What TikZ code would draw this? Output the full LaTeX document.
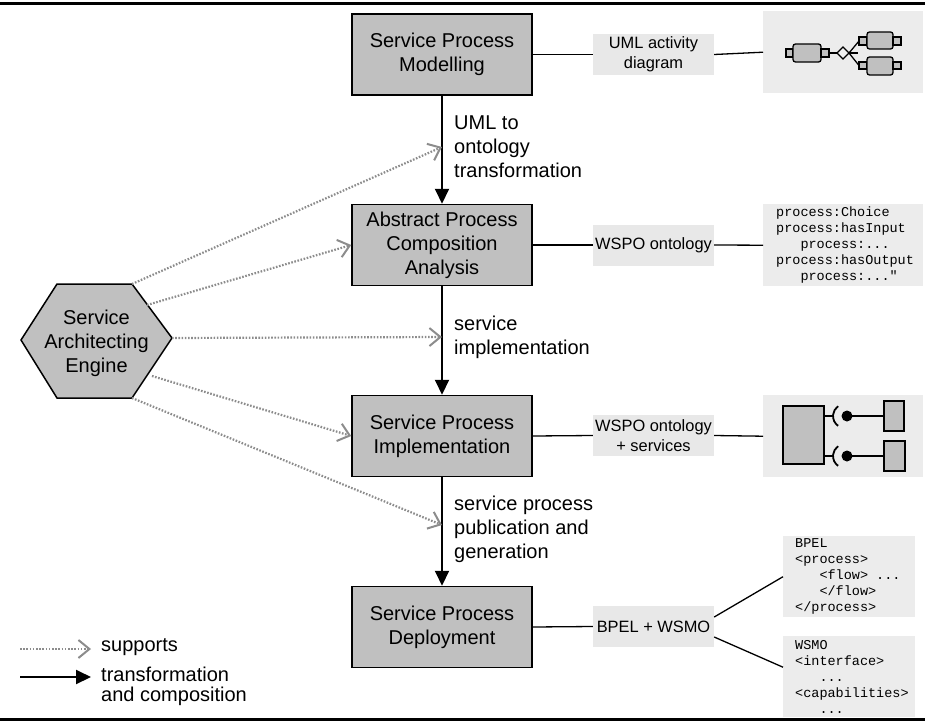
\documentclass[tikz,border=0pt]{standalone}
\usepackage{fontspec}
\setmainfont{Liberation Sans}
\setmonofont{Liberation Mono}
\usetikzlibrary{arrows.meta}

\definecolor{boxgray}{HTML}{C0C0C0}
\definecolor{labelgray}{HTML}{E8E8E8}
\definecolor{texgray}{HTML}{ECECEC}
\definecolor{supgray}{HTML}{8C8C8C}

\tikzset{
  stage/.style={draw=black, line width=1.5pt, fill=boxgray, minimum width=180pt,
    minimum height=81pt, align=center, inner sep=0pt, font=\fontsize{20}{24}\selectfont},
  artefact/.style={fill=labelgray, minimum width=121pt, minimum height=41pt,
    align=center, inner sep=0pt, font=\fontsize{16.4}{20}\selectfont},
  flowlabel/.style={anchor=west, align=left, inner sep=0pt, font=\fontsize{20}{24}\selectfont},
  codebox/.style={fill=texgray, inner sep=0pt, anchor=north west},
  codetext/.style={anchor=west, align=left, inner sep=0pt,
    font=\ttfamily\fontsize{13.5}{16}\selectfont},
  flow/.style={line width=2pt, -{Triangle[length=15pt,width=14pt]}},
  support/.style={draw=supgray, line width=2.2pt, dash pattern=on 1.6pt off 1.6pt,
    -{Straight Barb[length=11pt,width=18pt,line width=2pt]}},
  link/.style={line width=1.3pt},
  pict/.style={draw=black, line width=1.3pt, fill=boxgray},
}

\begin{document}
\begin{tikzpicture}[x=1pt,y=-1pt]
\useasboundingbox (0,0) rectangle (925,723);

% frame rules
\draw[line width=3pt] (0,3) -- (925,3);
\draw[line width=3pt] (0,719.5) -- (925,719.5);

% process stages
\node[stage] (spm) at (442,54.5)  {Service Process\\Modelling};
\node[stage] (apca) at (442,245)  {Abstract Process\\Composition\\Analysis};
\node[stage] (spi) at (442,436)   {Service Process\\Implementation};
\node[stage] (spd) at (442,627)   {Service Process\\Deployment};

% transformation arrows
\draw[flow] (spm.south) -- (apca.north);
\draw[flow] (apca.south) -- (spi.north);
\draw[flow] (spi.south) -- (spd.north);

\node[flowlabel] (l1) at (454,147) {UML to\\ontology\\transformation};
\node[flowlabel] (l2) at (454,337) {service\\implementation};
\node[flowlabel] (l3) at (454,529) {service process\\publication and\\generation};

% artefact labels
\node[artefact] (uad) at (653.5,54.5) {UML activity\\diagram};
\node[artefact] (wspo) at (653.5,245) {WSPO ontology};
\node[artefact] (wsps) at (653.5,435.5) {WSPO ontology\\+ services};
\node[artefact] (bw) at (653.5,626.5) {BPEL + WSMO};

% artefact illustrations
\node[codebox, minimum width=160pt, minimum height=82pt] (actpic) at (763,11) {};
\node[codebox, minimum width=160pt, minimum height=82pt] (ontobox) at (763,204) {};
\node[codebox, minimum width=160pt, minimum height=82pt] (comppic) at (763,395) {};
\node[codebox, minimum width=132pt, minimum height=81pt] (bpel) at (783,536) {};
\node[codebox, minimum width=132pt, minimum height=81pt] (wsmo) at (783,636) {};

\node[codetext] (ontotext) at (776,245) {process:Choice\\process:hasInput\\\phantom{xxx}process:...\\process:hasOutput\\\phantom{xxx}process:..."};
\node[codetext] (bpeltext) at (795,576.5) {BPEL\\<process>\\\phantom{xxx}<flow> ...\\\phantom{xxx}</flow>\\</process>};
\node[codetext] (wsmotext) at (795,676.5) {WSMO\\<interface>\\\phantom{xxx}...\\<capabilities>\\\phantom{xxx}...};

% links between stages, artefacts and illustrations
\draw[link] (spm.east) -- (uad.west);
\draw[link] (uad.east) -- (actpic.west);
\draw[link] (apca.east) -- (wspo.west);
\draw[link] (wspo.east) -- (ontobox.west);
\draw[link] (spi.east) -- (wsps.west);
\draw[link] (wsps.east) -- (comppic.west);
\draw[link] (spd.east) -- (bw.west);
\draw[link] ([yshift=9.5pt]bw.east) -- (bpel.west);
\draw[link] ([yshift=-10.5pt]bw.east) -- ([yshift=9.5pt]wsmo.west);

% activity diagram pictogram
\draw[pict] (786,49) rectangle (793,57);
\draw[pict, rounded corners=2.5pt] (793,44) rectangle (821,62);
\draw[pict] (821,49) rectangle (829,57);
\draw[line width=1.3pt] (829,53) -- (837,53);
\draw[line width=1.3pt] (849,53) -- (859,41);
\draw[line width=1.3pt] (849,53) -- (859,65.5);
\draw[line width=1.3pt] (849,53) -- (858,53);
\draw[pict, fill=white!80!boxgray] (837,53) -- (843,47) -- (849,53) -- (843,59) -- cycle;
\draw[pict] (859,37) rectangle (867,45);
\draw[pict, rounded corners=2.5pt] (867,32) rectangle (893,49);
\draw[pict] (893,37) rectangle (901,45);
\draw[pict] (859,62) rectangle (867,69);
\draw[pict, rounded corners=2.5pt] (867,57) rectangle (893,75);
\draw[pict] (893,62) rectangle (901,69);

% component pictogram
\draw[pict] (783,406) rectangle (824,464);
\foreach \yy in {416,456} {
  \draw[line width=1.5pt] (824,\yy) -- (833.5,\yy);
  \draw[line width=1.8pt] ([shift={(125:12)}]845,\yy) arc[start angle=125, end angle=235, radius=12];
  \fill (847,\yy) circle (5.5);
  \draw[line width=1.5pt] (847,\yy) -- (884,\yy);
}
\draw[pict] (884,401) rectangle (904,431);
\draw[pict] (884,441) rectangle (905,471);

% service architecting engine
\coordinate (hl) at (21,340);
\coordinate (htl) at (57,284);
\coordinate (htr) at (132,284);
\coordinate (hr) at (172,338);
\coordinate (hbr) at (132,398);
\coordinate (hbl) at (57,398);
\draw[line width=1.5pt, fill=boxgray] (hl) -- (htl) -- (htr) -- (hr) -- (hbr) -- (hbl) -- cycle;
\node[align=center, inner sep=0pt, font=\fontsize{20}{24}\selectfont] (sae) at (96.5,343) {Service\\Architecting\\Engine};

% support relations
\coordinate (s2) at (147,305);
\coordinate (s4) at (152,376);
\coordinate (t1) at (442,147);
\coordinate (t3) at (442,337);
\coordinate (t5) at (442,525);
\draw[support] (htr) -- (t1);
\draw[support] (s2) -- (apca.west);
\draw[support] (hr) -- (t3);
\draw[support] (s4) -- (spi.west);
\draw[support] (hbr) -- (t5);

% legend
\coordinate (la1) at (20,649);
\coordinate (la2) at (91,649);
\coordinate (lb1) at (20,677);
\coordinate (lb2) at (91,677);
\draw[support] (la1) -- (la2);
\draw[flow] (lb1) -- (lb2);
\node[anchor=west, inner sep=0pt, font=\fontsize{20}{20}\selectfont] (lsup) at (101,647) {supports};
\node[anchor=west, align=left, inner sep=0pt, font=\fontsize{20}{20}\selectfont] (ltra) at (101,686) {transformation\\and composition};
\end{tikzpicture}
\end{document}
